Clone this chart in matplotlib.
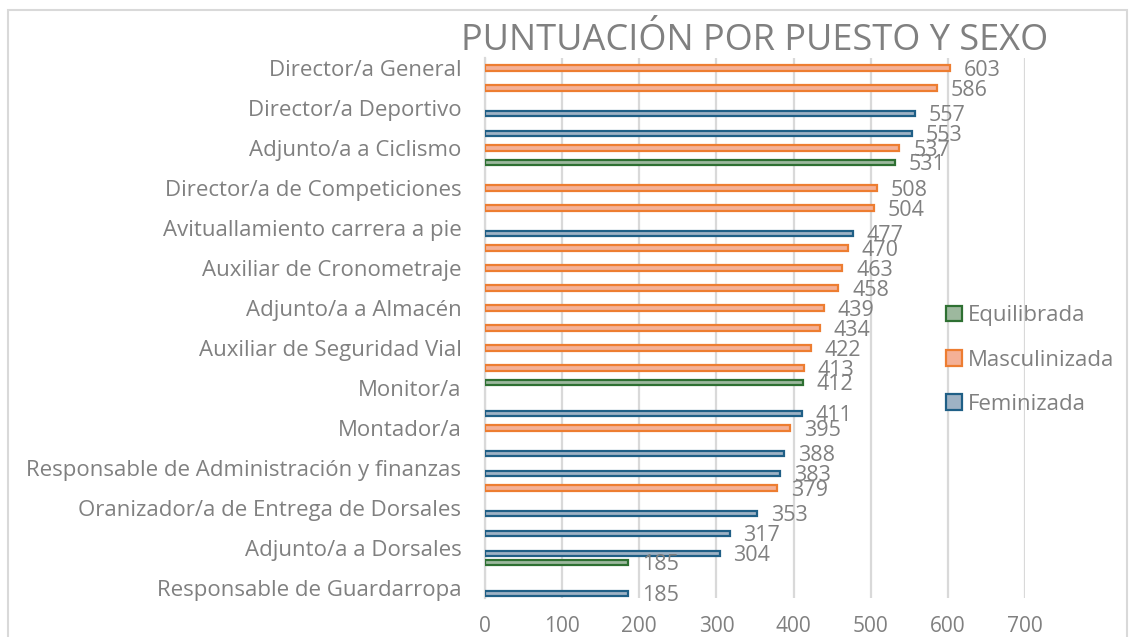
"""
Puntuación por puesto y sexo: barras horizontales agrupadas (3 series)
"""
import numpy as np
import matplotlib.pyplot as plt
from matplotlib.patches import Patch, Rectangle

plt.rcParams['font.family'] = ['Open Sans', 'DejaVu Sans']

# Puestos (Excel solo muestra una etiqueta de cada dos)
categorias = [
    'Director/a General', '',
    'Director/a Deportivo', '',
    'Adjunto/a a Ciclismo', '',
    'Director/a de Competiciones', '',
    'Avituallamiento carrera a pie', '',
    'Auxiliar de Cronometraje', '',
    'Adjunto/a a Almacén', '',
    'Auxiliar de Seguridad Vial', '',
    'Monitor/a', '',
    'Montador/a', '',
    'Responsable de Administración y finanzas', '',
    'Oranizador/a de Entrega de Dorsales', '',
    'Adjunto/a a Dorsales', '',
    'Responsable de Guardarropa',
]

# puntuaciones por serie (0 = sin dato en esa serie)
equilibrada = [0, 0, 0, 0, 0, 531, 0, 0, 0, 0, 0, 0, 0, 0,
               0, 0, 412, 0, 0, 0, 0, 0, 0, 0, 0, 185, 0]
masculinizada = [603, 586, 0, 0, 537, 0, 508, 504, 0, 470, 463, 458, 439, 434,
                 422, 413, 0, 0, 395, 0, 0, 379, 0, 0, 0, 0, 0]
feminizada = [0, 0, 557, 553, 0, 0, 0, 0, 477, 0, 0, 0, 0, 0,
              0, 0, 0, 411, 0, 388, 383, 0, 353, 317, 304, 0, 185]

series = [
    ('Equilibrada', equilibrada, '#9DB89E', '#2E7032', -1),
    ('Masculinizada', masculinizada, '#F4B096', '#ED7D31', 0),
    ('Feminizada', feminizada, '#9EB2C4', '#1F5F86', 1),
]

GRIS = '#808080'

fig = plt.figure(figsize=(11.30, 6.37), dpi=100)
ax = fig.add_axes([485 / 1130, 1 - 598 / 637, 540 / 1130, 540 / 637])

y = np.arange(len(categorias))
w = 0.27
for nombre, vals, fc, ec, k in series:
    vals = np.array(vals)
    m = vals > 0
    pos = y[m] + k * w
    ax.barh(pos, vals[m], height=w * 0.95, color=fc, edgecolor=ec,
            linewidth=1.6, zorder=3)
    for yy, v in zip(pos, vals[m]):
        ax.annotate(str(v), (v, yy), xytext=(10, -1.5), textcoords='offset points',
                    ha='left', va='center', fontsize=15.5, color=GRIS, zorder=4)

ax.set_xlim(0, 700)
ax.set_ylim(len(categorias) - 0.5, -0.5)
ax.set_xticks(np.arange(0, 701, 100))
ax.set_yticks(y)
ax.set_yticklabels(categorias)
ax.tick_params(axis='both', length=0, colors=GRIS)
ax.tick_params(axis='x', pad=13, labelsize=15)
ax.tick_params(axis='y', pad=17, labelsize=16)
ax.grid(axis='x', color='#D9D9D9', linewidth=1.6, zorder=0)
for s in ['top', 'right', 'bottom']:
    ax.spines[s].set_visible(False)
ax.spines['left'].set_color('#D9D9D9')
ax.spines['left'].set_linewidth(1.6)

fig.text(755 / 1130, 1 - 41 / 637, 'PUNTUACIÓN POR PUESTO Y SEXO',
         ha='center', va='center', fontsize=26, color=GRIS)

handles = [Patch(facecolor=fc, edgecolor=ec, linewidth=1.6, label=n)
           for n, _, fc, ec, _ in series]
fig.legend(handles=handles, loc='center left',
           bbox_to_anchor=(926 / 1130, 1 - 360 / 637), frameon=False,
           fontsize=16, labelcolor=GRIS, handlelength=0.7, handleheight=0.7,
           handletextpad=0.3, labelspacing=1.05)

# marco del gráfico
fig.patches.append(Rectangle((8 / 1130, -0.05), 1119 / 1130, 1 - 10 / 637 + 0.05,
                             transform=fig.transFigure, fill=False,
                             edgecolor='#D9D9D9', linewidth=1.5))

fig.savefig('out.png', dpi=100)
